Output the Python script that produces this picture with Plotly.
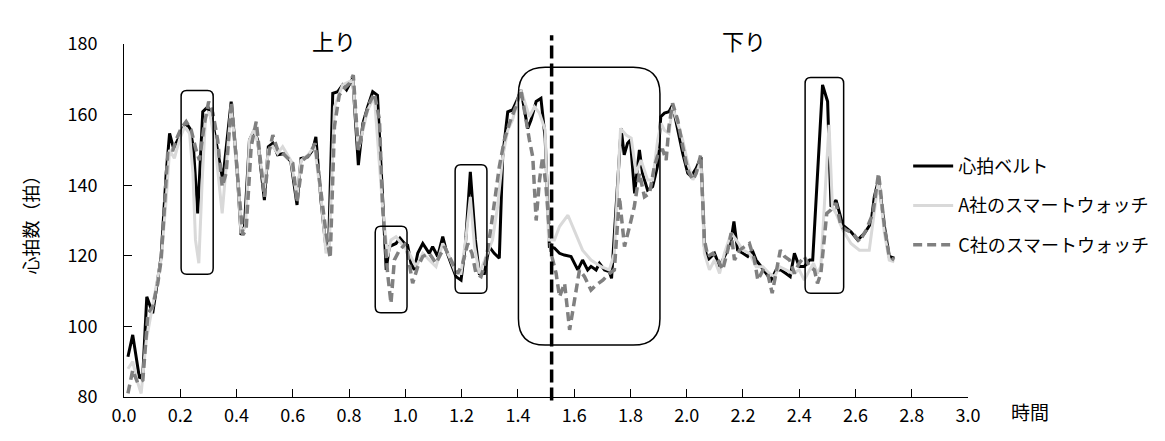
import plotly.graph_objects as go

# ---- data (time in hours, heart rate in bpm) ----
t_belt = [0.014,0.031,0.055,0.067,0.081,0.093,0.102,0.132,0.150,0.162,0.176,0.191,0.209,0.224,0.235,0.247,0.262,0.280,0.298,0.316,0.333,0.351,0.381,0.399,0.416,0.428,0.446,0.463,
          0.475,0.499,0.513,0.529,0.546,0.570,0.593,0.615,0.629,0.653,0.671,0.682,0.700,0.718,0.727,0.742,0.760,0.777,0.791,0.813,0.833,0.849,0.866,0.884,0.901,0.919,0.932,
          0.943,0.967,0.981,0.997,1.008,1.020,1.032,1.044,1.062,1.073,1.085,1.097,1.115,1.133,1.145,1.162,1.180,1.198,1.213,1.231,1.249,1.263,1.281,1.298,1.316,1.334,1.346,1.364,1.381,1.400,1.411,
          1.435,1.447,1.465,1.482,1.497,1.512,1.530,1.548,1.565,1.589,1.613,1.630,1.648,1.660,1.678,1.690,1.708,1.725,1.733,1.749,1.767,1.778,1.790,1.800,1.815,1.832,1.843,1.861,1.879,1.896,1.908,
          1.921,1.937,1.950,1.968,1.986,2.004,2.016,2.034,2.051,2.063,2.075,2.099,2.117,2.140,2.158,2.168,2.181,2.200,2.217,2.233,2.247,2.265,2.282,2.300,2.318,2.335,2.353,2.368,2.383,
          2.400,2.418,2.437,2.448,2.465,2.483,2.501,2.513,2.531,2.555,2.584,2.608,2.632,2.655,2.667,2.682,2.703,2.720,2.738]
hr_belt = [91.4,97.6,85.3,86.5,108.4,105.6,103.7,119.8,143.4,154.7,150.5,152.8,156.1,157.3,156.0,150.5,132.0,160.8,162.2,157.5,150.0,141.5,163.7,148.0,125.9,128.3,152.8,155.6,
           152.8,135.8,150.9,151.9,148.6,149.0,146.7,134.4,147.6,148.0,150.0,153.7,135.8,122.1,121.6,166.0,166.5,168.4,167.0,170.3,145.7,157.5,162.2,166.5,165.5,138.6,116.0,
           122.6,123.5,125.0,123.5,123.0,117.9,116.0,120.7,123.5,122.1,120.7,122.6,119.8,125.4,121.6,117.9,114.1,113.1,122.6,143.8,124.5,115.0,115.0,122.6,120.7,119.3,148.0,160.8,161.3,164.6,167.0,
           156.1,158.5,163.7,164.6,153.3,122.6,122.2,120.7,120.2,119.8,116.0,118.8,116.0,117.0,116.0,117.9,116.0,115.5,113.6,134.0,156.1,148.6,151.9,152.8,137.7,150.0,143.4,138.6,139.6,145.2,159.4,
           160.4,160.8,162.7,155.6,149.0,143.4,142.5,144.8,148.0,122.6,118.8,120.7,117.0,120.7,124.5,129.7,121.6,120.7,119.8,121.6,118.8,116.9,115.0,113.1,116.0,116.0,115.0,114.1,120.7,
           117.0,117.0,118.8,118.8,143.4,168.4,163.7,133.9,135.8,128.7,126.8,124.5,126.4,129.2,136.7,141.5,128.3,119.8,119.3]

t_a = [0.014,0.031,0.049,0.061,0.079,0.097,0.114,0.132,0.150,0.162,0.179,0.197,0.215,0.233,0.245,0.254,0.266,0.278,0.290,0.304,0.322,0.339,0.349,0.363,0.381,0.399,0.416,0.432,0.446,0.463,
       0.475,0.499,0.513,0.529,0.546,0.564,0.593,0.615,0.629,0.653,0.677,0.700,0.718,0.730,0.748,0.777,0.813,0.833,0.866,0.890,0.919,0.937,0.949,
       0.967,0.991,1.014,1.038,1.062,1.085,1.109,1.133,1.156,1.180,1.198,1.216,1.231,1.246,1.263,1.287,1.310,1.328,1.346,1.364,1.381,1.411,
       1.441,1.459,1.477,1.497,1.509,1.530,1.548,1.578,1.601,1.630,1.660,1.696,1.725,1.743,1.765,1.785,1.803,1.820,1.838,1.861,1.879,1.897,1.909,
       1.921,1.937,1.950,1.968,1.986,2.004,2.022,2.034,2.051,2.063,2.081,2.099,2.117,2.134,2.158,2.176,2.200,2.223,2.247,2.271,2.294,2.312,2.330,2.353,2.377,
       2.400,2.418,2.437,2.451,2.465,2.477,2.506,2.518,2.531,2.555,2.584,2.614,2.649,2.667,2.682,2.703,2.720,2.738]
hr_a = [88.0,90.0,84.0,81.0,96.0,104.0,111.0,119.0,136.0,150.0,147.6,152.8,156.6,154.7,143.4,124.5,117.9,141.5,159.4,160.8,152.8,138.6,132.0,145.2,162.2,148.0,126.4,128.3,152.8,156.0,
        152.0,138.6,150.0,151.0,149.0,150.9,147.0,136.7,147.0,148.5,151.0,137.0,120.7,123.5,162.2,168.4,169.8,150.0,161.3,165.1,134.0,119.8,124.5,
        125.4,123.0,120.7,116.9,120.7,118.8,116.9,123.5,119.8,115.0,115.0,125.4,136.7,122.6,115.0,119.8,124.5,134.0,148.0,155.6,158.5,167.0,
        159.4,162.2,160.4,155.6,124.5,124.5,128.3,131.5,127.3,121.6,118.8,116.9,116.0,120.7,156.1,154.2,153.3,143.4,147.1,141.5,141.5,152.8,157.5,
        155.6,154.7,162.2,157.5,152.8,146.2,141.5,143.4,147.1,120.7,116.0,118.8,115.0,120.7,126.4,124.5,121.6,120.7,116.9,116.9,115.0,114.1,116.9,116.0,115.0,
        116.0,113.1,116.0,117.9,115.0,117.0,157.1,133.9,132.0,127.3,123.5,121.6,121.6,132.0,141.5,126.4,118.8,118.3]

t_c = [0.014,0.031,0.049,0.067,0.085,0.102,0.120,0.132,0.144,0.156,0.174,0.185,0.203,0.221,0.239,0.256,0.268,0.286,0.301,0.316,0.333,0.349,0.363,0.382,0.399,0.422,0.434,0.452,0.470,
       0.481,0.499,0.517,0.529,0.546,0.570,0.600,0.615,0.635,0.659,0.679,0.700,0.718,0.733,0.748,0.765,0.783,0.801,0.815,0.833,0.854,0.872,0.890,0.908,0.919,0.937,0.949,
       0.961,0.979,1.002,1.026,1.044,1.062,1.085,1.109,1.139,1.162,1.186,1.204,1.222,1.237,1.251,1.269,1.287,1.305,1.320,1.334,1.352,1.370,1.392,1.411,
       1.441,1.453,1.465,1.477,1.488,1.500,1.518,1.536,1.548,1.566,1.584,1.601,1.619,1.637,1.660,1.678,1.702,1.725,1.743,1.761,1.779,1.797,1.814,1.832,1.850,1.868,1.885,1.903,
       1.915,1.927,1.937,1.950,1.968,1.986,2.004,2.022,2.034,2.050,2.063,2.075,2.093,2.111,2.128,2.146,2.158,2.170,2.188,2.206,2.223,2.241,2.253,2.271,2.288,2.304,2.318,2.333,2.348,2.366,2.383,
       2.400,2.418,2.437,2.454,2.465,2.477,2.489,2.498,2.513,2.531,2.549,2.567,2.591,2.614,2.638,2.662,2.682,2.703,2.720,2.738]
hr_c = [81.0,87.6,83.9,84.8,103.7,105.6,112.2,118.8,133.9,150.0,150.0,152.8,156.1,158.0,155.6,150.0,147.1,157.5,163.7,160.4,152.8,139.6,143.4,163.7,147.0,125.9,127.3,150.9,158.0,
        150.0,136.7,150.0,154.2,150.0,148.6,146.2,135.0,147.1,148.6,151.9,138.6,126.4,119.3,156.6,165.5,167.4,168.8,171.2,150.0,158.5,163.2,166.0,158.5,134.0,115.0,106.5,
        118.8,121.6,123.5,112.2,116.9,119.8,120.7,117.9,122.6,118.8,115.0,117.9,123.5,120.7,115.0,114.1,118.8,128.3,136.7,145.2,152.8,157.5,162.2,167.0,
        152.8,148.0,130.0,141.5,148.0,139.6,120.7,115.0,108.4,112.2,99.0,107.5,116.0,114.1,110.3,111.7,113.1,115.0,116.0,136.7,122.6,128.3,134.0,143.4,136.7,137.7,145.2,150.0,
        150.0,147.1,156.6,163.2,158.5,151.0,144.3,141.5,143.4,148.6,124.5,119.8,120.7,118.8,116.0,121.6,126.4,118.8,121.6,122.6,123.5,118.8,113.1,115.9,115.0,109.4,116.0,121.6,119.8,118.8,115.0,
        117.9,119.8,116.9,116.0,112.2,115.0,124.5,132.0,133.0,134.9,128.3,127.3,126.4,124.0,127.3,132.0,143.4,128.3,119.8,118.8]

series_names = ["心拍ベルト", "A社のスマートウォッチ", "C社のスマートウォッチ"]
x_ticks = [0.0, 0.2, 0.4, 0.6, 0.8, 1.0, 1.2, 1.4, 1.6, 1.8, 2.0, 2.2, 2.4, 2.6, 2.8, 3.0]
y_ticks = [80, 100, 120, 140, 160, 180]
split_time = 1.52          # boundary between 上り and 下り
section_labels = [("上り", 0.748), ("下り", 2.204)]
# highlighted regions: (t_start, t_end, hr_low, hr_high, large_corner)
highlight_boxes = [
    (0.203, 0.317, 114.8, 166.8, False),
    (0.893, 1.006, 103.9, 128.4, False),
    (1.177, 1.290, 109.4, 145.8, False),
    (1.402, 1.905, 94.7, 173.4, True),
    (2.421, 2.558, 109.4, 170.5, False),
]

FONT = "Noto Sans CJK JP"

fig = go.Figure()
fig.add_trace(go.Scatter(x=t_belt, y=hr_belt, mode="lines", name=series_names[0],
                         line=dict(color="#000000", width=3), legendgroup="g1"))
fig.add_trace(go.Scatter(x=t_a, y=hr_a, mode="lines", name=series_names[1],
                         line=dict(color="#d9d9d9", width=3), legendgroup="g2"))
fig.add_trace(go.Scatter(x=t_c, y=hr_c, mode="lines", name=series_names[2],
                         line=dict(color="#808080", width=3.5, dash="9px,5px"), legendgroup="g3"))


def rounded_path(x0, x1, y0, y1, rx, ry):
    return (f"M {x0+rx},{y0} L {x1-rx},{y0} Q {x1},{y0} {x1},{y0+ry} "
            f"L {x1},{y1-ry} Q {x1},{y1} {x1-rx},{y1} L {x0+rx},{y1} "
            f"Q {x0},{y1} {x0},{y1-ry} L {x0},{y0+ry} Q {x0},{y0} {x0+rx},{y0} Z")


shapes = []
for x0, x1, y0, y1, big in highlight_boxes:
    rx, ry = (0.095, 7.5) if big else (0.02, 1.7)
    shapes.append(dict(type="path", xref="x", yref="y", path=rounded_path(x0, x1, y0, y1, rx, ry),
                       line=dict(color="#000000", width=1.5), fillcolor="rgba(0,0,0,0)"))
shapes.append(dict(type="line", xref="x", yref="paper", x0=split_time, x1=split_time, y0=-0.01, y1=1.025,
                   line=dict(color="#000000", width=3.5, dash="13px,5px")))

annotations = [dict(text=txt, x=xv, xref="x", y=1.012, yref="paper", showarrow=False,
                    font=dict(family=FONT, size=22, color="#000000"), xanchor="center", yanchor="middle")
               for txt, xv in section_labels]
annotations.append(dict(text="時間", x=1.0, xref="paper", y=-0.04, yref="paper", showarrow=False,
                        xanchor="left", yanchor="middle", xshift=41,
                        font=dict(family=FONT, size=19, color="#000000")))

fig.update_layout(
    width=1165, height=441,
    margin=dict(l=124, r=196, t=44, b=44),
    plot_bgcolor="white", paper_bgcolor="white",
    font=dict(family=FONT, size=18, color="#000000"),
    shapes=shapes, annotations=annotations,
    showlegend=True,
    legend=dict(x=0.928, y=0.706, xanchor="left", yanchor="top", traceorder="grouped",
                tracegroupgap=13, font=dict(family=FONT, size=18, color="#000000"),
                bgcolor="rgba(0,0,0,0)", itemwidth=40),
    xaxis=dict(range=[0, 3.0], tickvals=x_ticks, ticktext=[f"{v:.1f}" for v in x_ticks],
               showgrid=False, zeroline=False, showline=True, linecolor="#000000", linewidth=1,
               ticks="inside", ticklen=8, tickcolor="#000000", tickwidth=1,
               tickfont=dict(family=FONT, size=18), ticklabelstandoff=2),
    yaxis=dict(range=[80, 180], tickvals=y_ticks, showgrid=False, zeroline=False,
               showline=True, linecolor="#000000", linewidth=1,
               ticks="inside", ticklen=8, tickcolor="#000000", tickwidth=1,
               tickfont=dict(family=FONT, size=18), ticklabelstandoff=22,
               title=dict(text="心拍数（拍）", font=dict(family=FONT, size=18), standoff=24)),
)

fig.write_html("out.html")
